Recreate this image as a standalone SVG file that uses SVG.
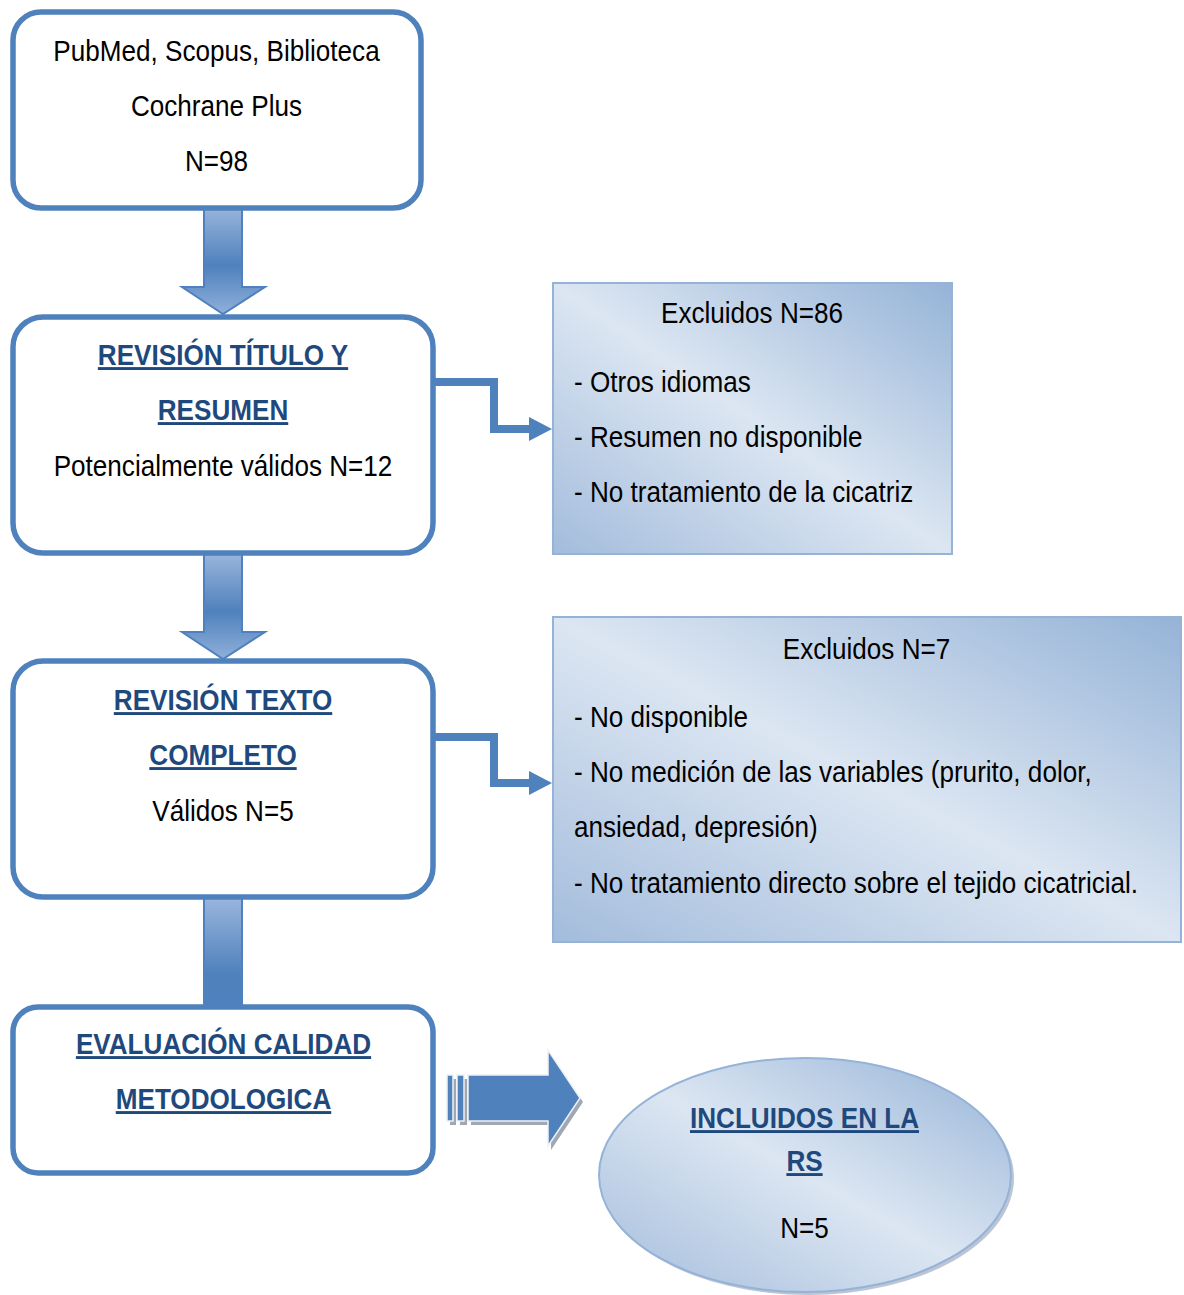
<svg xmlns="http://www.w3.org/2000/svg" width="1184" height="1295" viewBox="0 0 1184 1295">
<style>
.box{fill:#ffffff;stroke:#4F81BD;stroke-width:5.5}
.excl{fill:url(#gDiag);stroke:#95B3D7;stroke-width:2}
.t{font-family:"Liberation Sans",Arial,sans-serif;font-size:29px;fill:#000000}
.c{text-anchor:middle}
.h{font-weight:bold;fill:#1F497D;text-decoration:underline}
.blk{fill:url(#gDown);stroke:#4F81BD;stroke-width:2}
.elb{fill:none;stroke:#4F81BD;stroke-width:8}
.head{fill:#4F81BD}
</style>
<defs>
<linearGradient id="gDiag" x1="1" y1="0" x2="0" y2="1">
<stop offset="0" stop-color="#95B3D7"/>
<stop offset="0.5" stop-color="#DCE6F2"/>
<stop offset="1" stop-color="#A3BCDC"/>
</linearGradient>
<linearGradient id="gDown" x1="0" y1="0" x2="0" y2="1">
<stop offset="0" stop-color="#9AB6DC"/>
<stop offset="0.55" stop-color="#4F81BD"/>
<stop offset="1" stop-color="#8FB0DA"/>
</linearGradient>
<linearGradient id="gBar" x1="0" y1="0" x2="0" y2="1">
<stop offset="0" stop-color="#9AB6DC"/>
<stop offset="0.7" stop-color="#4F81BD"/>
<stop offset="1" stop-color="#4F81BD"/>
</linearGradient>
</defs>
<rect width="1184" height="1295" fill="#ffffff"/>

<g id="connectors">
<polygon class="blk" points="204,206 242,206 242,287 265,287 223,314 182,287 204,287"/>
<polygon class="blk" points="204,553 242,553 242,632 265,632 223,659 182,632 204,632"/>
<rect x="204" y="897" width="38" height="110" fill="url(#gBar)" stroke="#4F81BD" stroke-width="2"/>
<path class="elb" d="M433,382 H494 V429 H531"/>
<polygon class="head" points="529,417 552,429 529,441"/>
<path class="elb" d="M433,737 H494 V783 H531"/>
<polygon class="head" points="529,771 552,783 529,795"/>
<g id="striped-arrow">
<g fill="#A0A8B4" transform="translate(3,4)">
<rect x="447" y="1075" width="6" height="46"/>
<rect x="457" y="1075" width="7" height="46"/>
<polygon points="468,1075 548,1075 548,1050 580,1098 548,1146 548,1121 468,1121"/>
</g>
<g fill="#4F81BD" stroke="#EEF1F5" stroke-width="1.5">
<rect x="447" y="1075" width="6" height="46"/>
<rect x="457" y="1075" width="7" height="46"/>
<polygon points="468,1075 548,1075 548,1050 580,1098 548,1146 548,1121 468,1121"/>
</g>
</g>
</g>

<g id="n1">
<rect class="box" x="13" y="12" width="408" height="196" rx="28"/>
<text class="t c" transform="translate(216.5,61) scale(0.9,1)">PubMed, Scopus, Biblioteca</text>
<text class="t c" transform="translate(216.5,116) scale(0.9,1)">Cochrane Plus</text>
<text class="t c" transform="translate(216.5,171) scale(0.9,1)">N=98</text>
</g>

<g id="n2">
<rect class="box" x="13" y="317" width="420" height="236" rx="30"/>
<text class="t c h" transform="translate(223,365) scale(0.9,1)">REVISIÓN TÍTULO Y</text>
<text class="t c h" transform="translate(223,420) scale(0.9,1)">RESUMEN</text>
<text class="t c" transform="translate(223,476) scale(0.9,1)">Potencialmente válidos N=12</text>
</g>

<g id="n3">
<rect class="box" x="13" y="661" width="420" height="236" rx="30"/>
<text class="t c h" transform="translate(223,710) scale(0.9,1)">REVISIÓN TEXTO</text>
<text class="t c h" transform="translate(223,765) scale(0.9,1)">COMPLETO</text>
<text class="t c" transform="translate(223,821) scale(0.9,1)">Válidos N=5</text>
</g>

<g id="n4">
<rect class="box" x="13" y="1007" width="420" height="166" rx="25"/>
<text class="t c h" transform="translate(223.5,1054) scale(0.9,1)">EVALUACIÓN CALIDAD</text>
<text class="t c h" transform="translate(223.5,1109) scale(0.9,1)">METODOLOGICA</text>
</g>

<g id="excl1">
<rect class="excl" x="553" y="283" width="399" height="271"/>
<text class="t c" transform="translate(752,323) scale(0.9,1)">Excluidos N=86</text>
<text class="t" transform="translate(574,392) scale(0.9,1)">- Otros idiomas</text>
<text class="t" transform="translate(574,447) scale(0.9,1)">- Resumen no disponible</text>
<text class="t" transform="translate(574,502) scale(0.9,1)">- No tratamiento de la cicatriz</text>
</g>

<g id="excl2">
<rect class="excl" x="553" y="617" width="628" height="325"/>
<text class="t c" transform="translate(866.5,659) scale(0.9,1)">Excluidos N=7</text>
<text class="t" transform="translate(574,727) scale(0.9,1)">- No disponible</text>
<text class="t" transform="translate(574,782) scale(0.9,1)">- No medición de las variables (prurito, dolor,</text>
<text class="t" transform="translate(574,837) scale(0.9,1)">ansiedad, depresión)</text>
<text class="t" transform="translate(574,893) scale(0.9,1)">- No tratamiento directo sobre el tejido cicatricial.</text>
</g>

<g id="incl">
<ellipse cx="808" cy="1178" rx="206" ry="117" fill="#8496B0" opacity="0.55"/>
<ellipse cx="805" cy="1175" rx="206" ry="117" fill="url(#gDiag)" stroke="#95B3D7" stroke-width="2"/>
<text class="t c h" transform="translate(804.5,1128) scale(0.9,1)">INCLUIDOS EN LA</text>
<text class="t c h" transform="translate(804.5,1171) scale(0.9,1)">RS</text>
<text class="t c" transform="translate(804.5,1238) scale(0.9,1)">N=5</text>
</g>
</svg>
